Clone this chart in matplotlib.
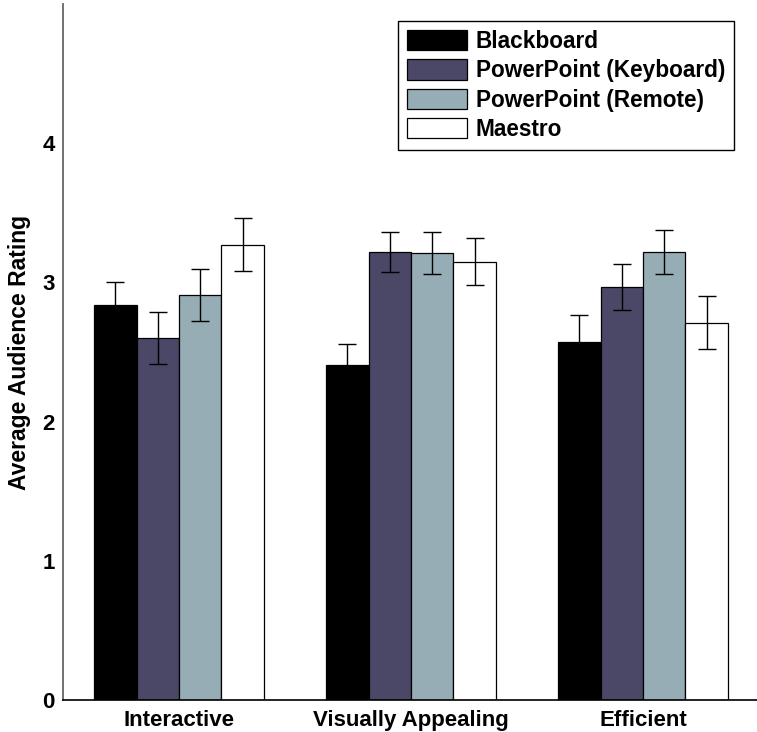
import numpy as np
import matplotlib.pyplot as plt

plt.rcParams['font.family'] = ['Liberation Sans', 'DejaVu Sans']
plt.rcParams['font.weight'] = 'bold'

# data
categories = ['Interactive', 'Visually Appealing', 'Efficient']
series_names = ['Blackboard', 'PowerPoint (Keyboard)', 'PowerPoint (Remote)', 'Maestro']
blackboard = [2.84, 2.41, 2.57]
keyboard = [2.60, 3.22, 2.97]
remote = [2.91, 3.21, 3.22]
maestro = [3.27, 3.15, 2.71]
err_blackboard = [0.16, 0.15, 0.195]
err_keyboard = [0.185, 0.145, 0.165]
err_remote = [0.185, 0.15, 0.16]
err_maestro = [0.19, 0.17, 0.19]
yticks = [0, 1, 2, 3, 4]

values = [blackboard, keyboard, remote, maestro]
errors = [err_blackboard, err_keyboard, err_remote, err_maestro]
colors = ['#000000', '#4a4866', '#96adb5', '#ffffff']

fig = plt.figure(figsize=(7.57, 7.32), dpi=100)
ax = fig.add_axes([63 / 757, 32 / 732, 696 / 757, 696 / 732])

x = np.arange(1, len(categories) + 1)
w = 0.1825
for i, (vals, errs, col, name) in enumerate(zip(values, errors, colors, series_names)):
    pos = x + (i - 1.5) * w
    ax.bar(pos, vals, width=w, color=col, edgecolor='black', linewidth=0.9,
           label=name, zorder=2)
    ax.errorbar(pos, vals, yerr=errs, fmt='none', ecolor='black',
                elinewidth=1.0, capsize=6.5, capthick=1.0, zorder=3)

ax.set_xlim(0.5, 3.5)
ax.set_ylim(0, 5)
ax.set_yticks(yticks)
ax.set_yticklabels([str(t) for t in yticks])
ax.set_xticks(x)
ax.set_xticklabels(categories)
ax.tick_params(axis='both', length=0, labelsize=16)
ax.tick_params(axis='y', pad=6)
ax.tick_params(axis='x', pad=7)
for lab in ax.get_xticklabels() + ax.get_yticklabels():
    lab.set_fontweight('bold')

ax.set_ylabel('Average Audience Rating', fontsize=16.5, fontweight='bold', labelpad=8)

ax.spines['top'].set_visible(False)
ax.spines['right'].set_visible(False)
ax.spines['left'].set_color('#666666')
ax.spines['left'].set_linewidth(1.3)
ax.spines['bottom'].set_color('black')
ax.spines['bottom'].set_linewidth(1.2)

leg = ax.legend(loc='upper right', bbox_to_anchor=(0.964, 0.9756), borderaxespad=0,
                prop={'weight': 'bold', 'size': 16.3}, fancybox=False,
                edgecolor='black', framealpha=1, handlelength=2.65, handleheight=1.0,
                handletextpad=0.36, labelspacing=0.28, borderpad=0.4)
leg.get_frame().set_linewidth(1.0)

fig.savefig('out.png', dpi=100)
